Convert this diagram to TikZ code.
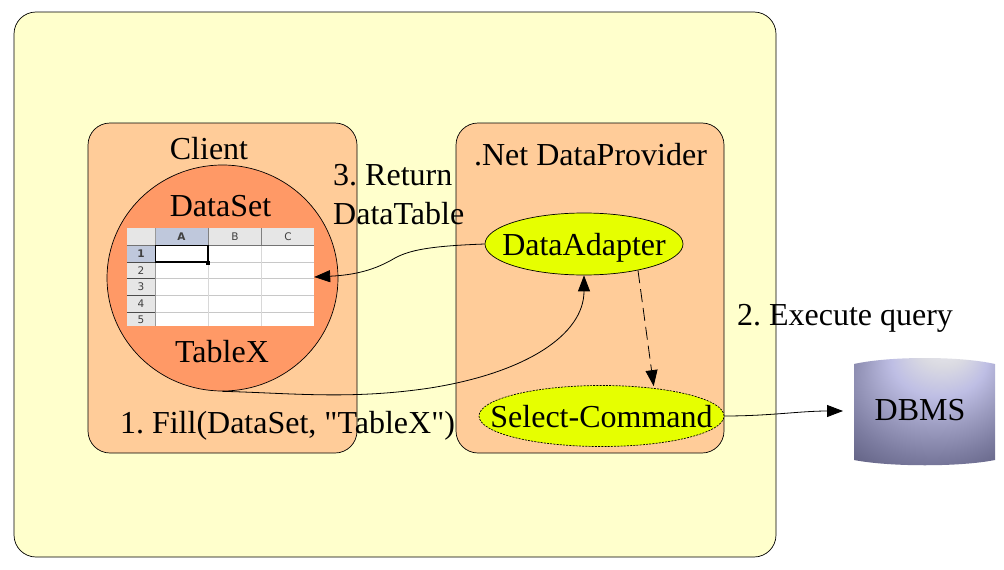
\documentclass[tikz,border=0pt]{standalone}
\usepackage{fontspec}
\newfontfamily\plainserif{Liberation Serif}
\newfontfamily\sheetfont{DejaVu Sans}
\usetikzlibrary{shapes.geometric,arrows.meta}
\definecolor{outerc}{HTML}{FFFFCC}
\definecolor{boxc}{HTML}{FFCC99}
\definecolor{circc}{HTML}{FF9966}
\definecolor{elc}{HTML}{E6FF00}
\definecolor{hdrc}{HTML}{E6E6E6}
\definecolor{selc}{HTML}{BFC8DC}
\definecolor{gridc}{HTML}{C8C8C8}
\definecolor{dba}{HTML}{F4F4F4}
\definecolor{dbb}{HTML}{DADAE2}
\definecolor{dbc}{HTML}{BEBEE4}
\definecolor{dbd}{HTML}{9C9CC0}
\definecolor{dbe}{HTML}{7C7CA0}
\definecolor{dbf}{HTML}{606082}
\definecolor{dbg}{HTML}{484868}
\pgfdeclareradialshading{dbmsshade}{\pgfpoint{8bp}{36bp}}{
  color(0bp)=(dba);
  color(9bp)=(dbb);
  color(17bp)=(dbc);
  color(25bp)=(dbd);
  color(33bp)=(dbe);
  color(41bp)=(dbf);
  color(50bp)=(dbg)}
\newcommand{\lblfont}{\plainserif\frenchspacing\fontsize{32}{35}\selectfont}
\tikzset{
  panel/.style={draw=black,line width=0.7pt,rounded corners=22pt,fill=boxc},
  lbl/.style={font=\lblfont,inner sep=0pt,text=black},
  elps/.style={ellipse,draw=black,line width=0.7pt,fill=elc,inner sep=0pt,font=\lblfont},
  conn/.style={draw=black,line width=0.8pt,-{Triangle[length=16pt,width=12pt]}},
  hdrtxt/.style={font=\sheetfont\fontsize{10.5}{12}\selectfont,inner sep=0pt,text=black!75}
}
\begin{document}
\begin{tikzpicture}[x=1pt,y=-1pt]
\useasboundingbox (0,0) rectangle (1004,570);
\fill[white] (0,0) rectangle (1004,570);
\node[panel,fill=outerc,minimum width=762pt,minimum height=545pt,inner sep=0pt] (outer) at (395,284.5) {};
\node[panel,minimum width=269pt,minimum height=330pt,inner sep=0pt] (client) at (222.5,288) {};
\node[panel,minimum width=268pt,minimum height=330pt,inner sep=0pt] (provider) at (590,288) {};
\node[ellipse,draw=black,line width=0.7pt,fill=circc,minimum width=231pt,minimum height=226pt,inner sep=0pt] (ds) at (222.5,278) {};
% spreadsheet
\node[fill=white,minimum width=187pt,minimum height=98pt,inner sep=0pt] (sheet) at (220.5,277) {};
\fill[hdrc] (127,228) rectangle (314,245);
\fill[hdrc] (127,245) rectangle (155,326);
\fill[selc] (155,228) rectangle (208,245);
\fill[selc] (127,245) rectangle (155,262);
\foreach \yy in {262,278.5,295,312}{\draw[gridc,line width=0.9pt] (155,\yy) -- (314,\yy);\draw[black!70,line width=0.7pt] (127,\yy) -- (155,\yy);}
\foreach \xx in {208,261.5}{\draw[gridc!70!white,line width=0.8pt] (\xx,245) -- (\xx,326);\draw[black!50,line width=0.8pt] (\xx,228) -- (\xx,245);}
\draw[black!55,line width=1pt] (127,245) -- (314,245);
\draw[black!40,line width=1pt] (155,228) -- (155,326);
\draw[black,line width=1.3pt] (155.5,245.5) rectangle (208,262);
\fill[black] (206,260.5) rectangle (210,265);
\node[hdrtxt,font=\sheetfont\bfseries\fontsize{10.5}{12}\selectfont] (colA) at (181.5,237) {A};
\node[hdrtxt] (colB) at (235,237) {B};
\node[hdrtxt] (colC) at (288,237) {C};
\node[hdrtxt,font=\sheetfont\bfseries\fontsize{10.5}{12}\selectfont] (r1) at (141,254) {1};
\node[hdrtxt] (r2) at (141,270.5) {2};
\node[hdrtxt] (r3) at (141,287) {3};
\node[hdrtxt] (r4) at (141,304) {4};
\node[hdrtxt] (r5) at (141,320) {5};
% ellipses
\node[elps,minimum width=198pt,minimum height=62pt] (adapter) at (584,244) {\makebox[0pt]{\raisebox{-11pt}[0pt][0pt]{DataAdapter}}};
\node[elps,dashed,dash pattern=on 2pt off 1.2pt,minimum width=245pt,minimum height=61pt] (select) at (601.5,416) {\makebox[0pt]{\raisebox{-11pt}[0pt][0pt]{Select-Command}}};
% DBMS
\shade[shading=dbmsshade] (854,364) .. controls (890,356) and (960,356) .. (995,364) -- (995,460) .. controls (960,467) and (890,467) .. (854,460) -- cycle;
\node[lbl] (dbms) at (920,410) {DBMS};
\coordinate (dbmsin) at (843,411);
% labels
\node[lbl] (clientlbl) at (209,149) {Client};
\node[lbl] (provlbl) at (590.5,155) {.Net DataProvider};
\node[lbl] (dslbl) at (220.5,206) {DataSet};
\node[lbl] (tablelbl) at (222,352) {TableX};
\node[lbl] (fill) at (287.5,426) {1. Fill(DataSet, "TableX")};
\node[lbl,anchor=west] (ret) at (333,175) {3. Return};
\node[lbl,anchor=west] (dt) at (333,214) {DataTable};
\node[lbl] (exec) at (845,318) {2. Execute query};
% connectors
\draw[conn] (adapter.west) .. controls (430,246) and (410,250) .. (395,258) .. controls (375,270) and (355,275) .. (sheet.east);
\draw[conn] (ds.south) .. controls (290,393) and (350,400) .. (430,388) .. controls (525,373) and (584,335) .. (adapter.south);
\draw[conn,dash pattern=on 13pt off 6pt,shorten >=2pt] (adapter.-26) -- (select.28);
\draw[conn] (select.east) .. controls (770,416) and (800,411) .. (dbmsin);
\end{tikzpicture}
\end{document}
